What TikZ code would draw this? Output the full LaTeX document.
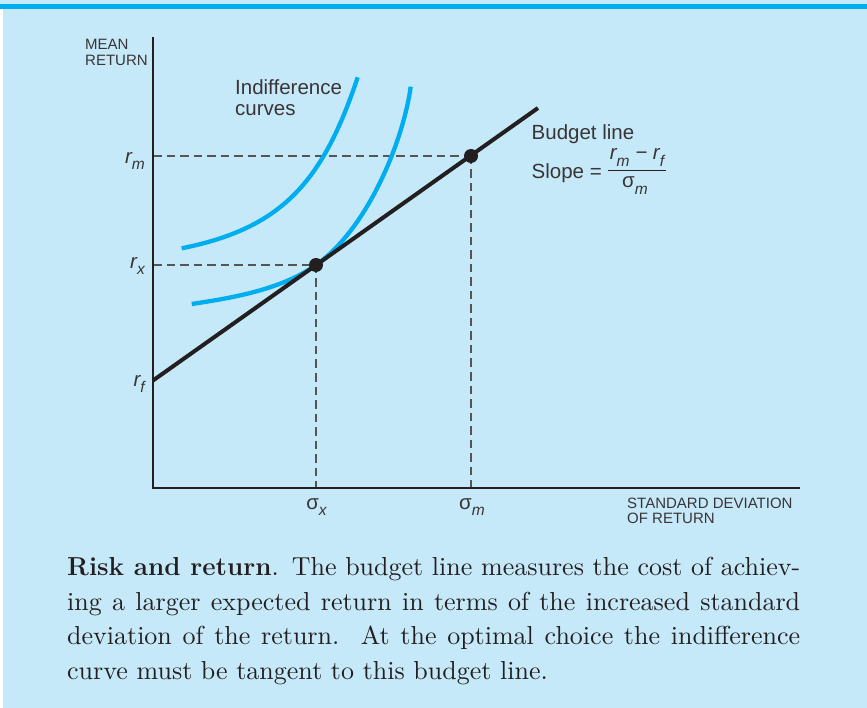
\documentclass[tikz,border=0pt]{standalone}
\usepackage{fontspec}
\newfontfamily\labfont{Liberation Sans}
\newfontfamily\capfont{lmroman10-regular}[Extension=.otf,BoldFont=lmroman12-bold]
\definecolor{bg}{HTML}{C6E9F9}
\definecolor{topbar}{HTML}{00AEEF}
\definecolor{curveblue}{HTML}{00AEEF}
\definecolor{ink}{HTML}{231F20}
\definecolor{dashgray}{HTML}{555555}
\newcommand\lsub[1]{\raisebox{-6.5pt}{\fontsize{15.5}{15.5}\selectfont\itshape #1}}
\begin{document}
\begin{tikzpicture}[x=1pt,y=-1pt,
  axis/.style={line width=2.6pt,draw=ink,line join=miter},
  budget/.style={line width=4pt,draw=ink},
  guide/.style={line width=1.2pt,draw=dashgray,dash pattern=on 8.5pt off 5pt},
  indiff/.style={line width=4.3pt,draw=curveblue},
  dot/.style={circle,fill=ink,inner sep=0pt,minimum size=14pt},
  lab/.style={font=\labfont\fontsize{20.5}{20.5}\selectfont,text=ink!90,inner sep=0pt},
  smalllab/.style={font=\labfont\fontsize{15}{15.5}\selectfont,text=ink!90,inner sep=0pt,align=left},
  caption/.style={font=\capfont\fontsize{26}{34.7}\selectfont,text=ink,inner sep=0pt,text width=733pt,align=justify}
]
\useasboundingbox (0,0) rectangle (867,708);
\fill[bg] (0,0) rectangle (867,708);
\fill[white] (0,8.7) rectangle (2.5,708);
\fill[topbar] (0,4.3) rectangle (867,8.7);

% key coordinates
\coordinate (O) at (153,488);
\coordinate (Ytop) at (153,37);
\coordinate (Xend) at (800,488);
\coordinate (Bs) at (153,380.5);
\coordinate (Be) at (538,108);
\coordinate (M) at (471,156);
\coordinate (X) at (316,265);
\coordinate (My) at (153,156);
\coordinate (Xy) at (153,265);
\coordinate (Mx) at (471,488);
\coordinate (Xx) at (316,488);

% dashed guides
\draw[guide] (My) -- (M);
\draw[guide] (Xy) -- (X);
\draw[guide] (X) -- (Xx);
\draw[guide] (M) -- (Mx);

% indifference curves
\coordinate (IaS) at (181.7,248.3);
\coordinate (IaE) at (357.7,77.3);
\draw[indiff] (IaS) .. controls (281.7,228.3) and (322.7,182.3) .. (IaE);
\coordinate (IbS) at (191.7,304);
\coordinate (IbE) at (410.7,86.7);
\draw[indiff] (IbS) .. controls (231.7,298) and (281,289.8) .. (X)
                    .. controls (370,226.8) and (404,136.7) .. (IbE);

% budget line
\draw[budget] (Bs) -- (Be);

% axes
\draw[axis] (Ytop) -- (O) -- (Xend);

% points
\node[dot] (Mdot) at (M) {};
\node[dot] (Xdot) at (X) {};

% axis labels
\node[smalllab,anchor=north west] (ylab) at (85,39) {MEAN\\RETURN};
\node[smalllab,anchor=north west] (xlab) at (627,497.5) {STANDARD DEVIATION\\OF RETURN};

% tick labels
\node[lab,anchor=base east] (rm) at (145,163.3) {\itshape r\lsub{m}};
\node[lab,anchor=base east] (rx) at (145,268.3) {\itshape r\lsub{x}};
\node[lab,anchor=base east] (rf) at (145,386) {\itshape r\lsub{f}};
\node[lab,anchor=base] (sx) at (316.5,509) {σ\lsub{x}};
\node[lab,anchor=base] (sm) at (472,509) {σ\lsub{m}};

% curve label
\node[lab,anchor=north west,align=left] (ind) at (235,79.5) {Indifference\\curves};

% budget line label and slope
\node[lab,anchor=base west] (bl) at (531.5,140) {Budget line};
\node[lab,anchor=base west] (slope) at (531.5,179) {Slope =};
\node[lab,anchor=base] (num) at (637,160) {\itshape r\lsub{m}\;−\;r\lsub{f}};
\node[lab,anchor=base] (den) at (635,188) {σ\lsub{m}};
\coordinate (fbl) at (608,170.5);
\coordinate (fbr) at (666,170.5);
\draw[line width=1.3pt,draw=ink] (fbl) -- (fbr);

% caption
\node[caption,anchor=north west] (cap) at (67,557) {\emergencystretch=2em\textbf{Risk and return}.\enspace The budget line measures the cost of achiev-\linebreak ing a larger expected return in terms of the increased standard\linebreak deviation of the return.\ \ At the optimal choice the indifference\linebreak curve must be tangent to this budget line.};
\end{tikzpicture}
\end{document}
